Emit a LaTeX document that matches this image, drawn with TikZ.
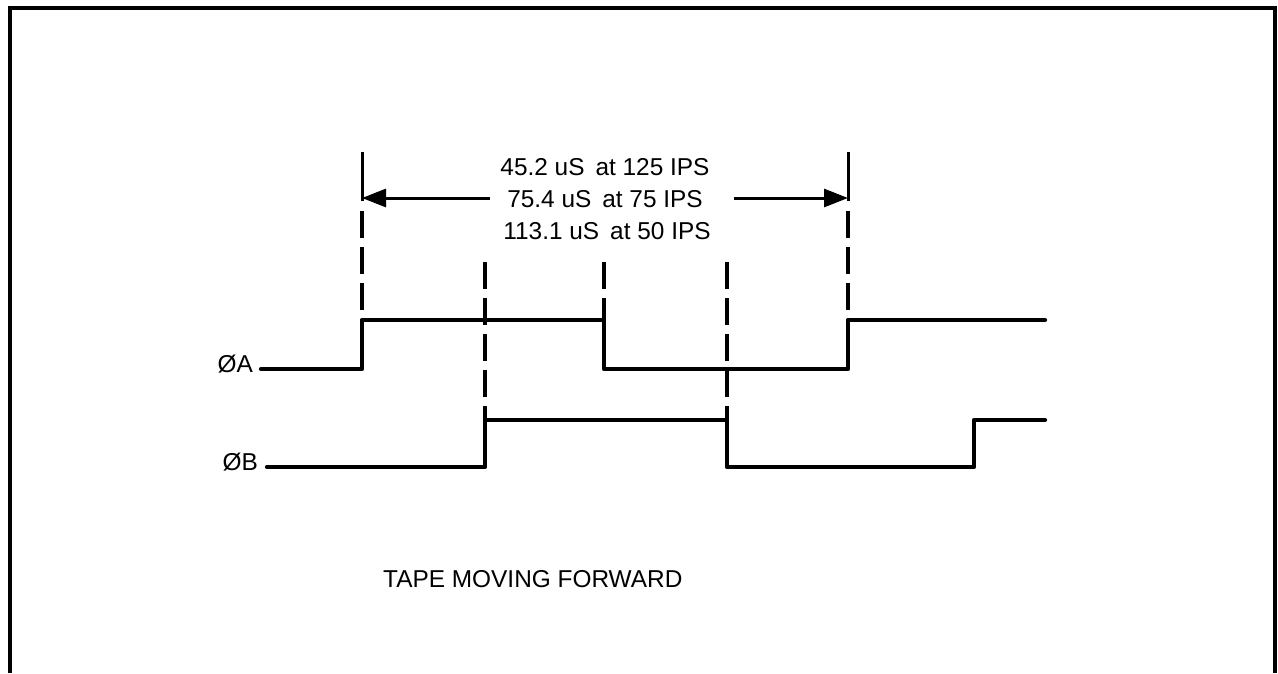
\documentclass[tikz,border=0pt]{standalone}
\usepackage{fontspec}
\setmainfont{Liberation Sans}
\usetikzlibrary{arrows.meta}
\begin{document}
\begin{tikzpicture}[x=1pt,y=-1pt,
  wave/.style={line width=4.2pt,line join=round,line cap=round},
  guide/.style={line width=3.2pt,dash pattern=on 27pt off 9pt},
  tick/.style={line width=3pt},
  frame/.style={line width=4.6pt,line join=miter},
  dim/.style={line width=3pt,-{Triangle[length=24pt,width=18pt]}},
  lbl/.style={inner sep=0pt,font=\fontsize{24.4}{29}\selectfont}]
\useasboundingbox (0,0) rectangle (1278,673);
% frame
\coordinate (fbl) at (10,673);
\coordinate (ftl) at (10,8);
\coordinate (ftr) at (1275,8);
\coordinate (fbr) at (1275,673);
\draw[frame] (fbl) -- (ftl) -- (ftr) -- (fbr);
% guide lines
\coordinate (g1s) at (362,152); \coordinate (g1e) at (362,201);
\coordinate (g1t) at (362,211); \coordinate (g1b) at (362,320);
\coordinate (g2t) at (485,262); \coordinate (g2b) at (485,420);
\coordinate (g3t) at (604,262); \coordinate (g3b) at (604,320);
\coordinate (g4t) at (727,262); \coordinate (g4b) at (727,467);
\coordinate (g5s) at (848,152); \coordinate (g5e) at (848,201);
\coordinate (g5t) at (848,211); \coordinate (g5b) at (848,320);
\draw[tick] (g1s) -- (g1e);
\draw[tick] (g5s) -- (g5e);
\draw[guide] (g1t) -- (g1b);
\draw[guide] (g2t) -- (g2b);
\draw[guide] (g3t) -- (g3b);
\draw[guide] (g4t) -- (g4b);
\draw[guide] (g5t) -- (g5b);
% dimension text
\node[lbl,anchor=base] (t1) at (605,175) {45.2 uS\hspace{0.45em}at 125 IPS};
\node[lbl,anchor=base] (t2) at (605,207) {75.4 uS\hspace{0.45em}at 75 IPS};
\node[lbl,anchor=base] (t3) at (607,239) {113.1 uS\hspace{0.45em}at 50 IPS};
% dimension arrows
\coordinate (al) at (490,198); \coordinate (alt) at (362,198);
\coordinate (ar) at (734,198); \coordinate (art) at (848,198);
\draw[dim] (al) -- (alt);
\draw[dim] (ar) -- (art);
% phase A
\node[lbl,anchor=base east] (la) at (253,372) {ØA};
\draw[wave] (261,369) -- (362,369) -- (362,320) -- (604,320) -- (604,369)
  -- (848,369) -- (848,320) -- (1045,320);
% phase B
\node[lbl,anchor=base east] (lb) at (258,470) {ØB};
\draw[wave] (267,467) -- (485,467) -- (485,420) -- (727,420) -- (727,467)
  -- (974,467) -- (974,420) -- (1045,420);
% caption
\node[lbl,anchor=base west] (cap) at (383,587) {TAPE MOVING FORWARD};
\end{tikzpicture}
\end{document}
